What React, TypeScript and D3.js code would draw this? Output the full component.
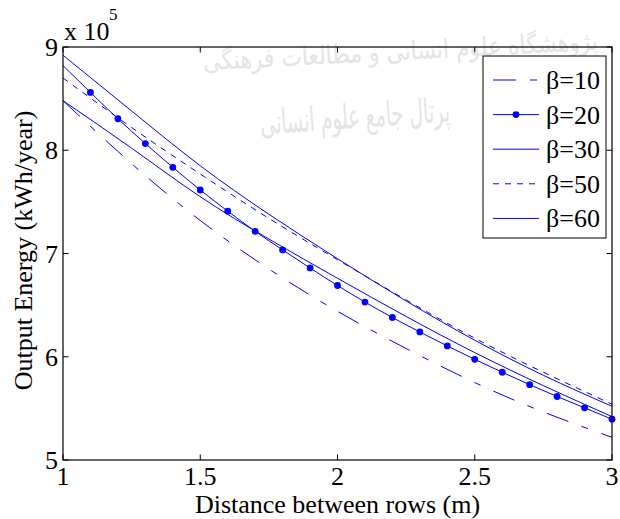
import React from "react";
import * as d3 from "d3";

const xFine = [1.0, 1.1, 1.2, 1.3, 1.4, 1.5, 1.6, 1.7, 1.8, 1.9, 2.0, 2.1, 2.2, 2.3, 2.4, 2.5, 2.6, 2.7, 2.8, 2.9, 3.0];
const xCoarse = [1.0, 1.25, 1.5, 1.75, 2.0, 2.25, 2.5, 2.75, 3.0];

const beta10 = [8.48, 7.87, 7.32, 6.85, 6.44, 6.08, 5.75, 5.465, 5.22];
const beta20 = [8.82, 8.56, 8.305, 8.065, 7.835, 7.615, 7.41, 7.215, 7.035, 6.86, 6.69, 6.53, 6.38, 6.24, 6.105, 5.975, 5.85, 5.73, 5.615, 5.505, 5.395];
const beta30 = [8.92, 8.38, 7.85, 7.38, 6.95, 6.54, 6.16, 5.82, 5.52];
const beta50 = [8.70, 8.22, 7.77, 7.34, 6.94, 6.55, 6.18, 5.85, 5.54];
const beta60 = [8.48, 8.02, 7.55, 7.14, 6.76, 6.39, 6.04, 5.72, 5.42];

const xTicks = [1, 1.5, 2, 2.5, 3];
const yTicks = [5, 6, 7, 8, 9];
const legendLabels = ["β=10", "β=20", "β=30", "β=50", "β=60"];
const watermark = ["پژوهشگاه علوم انسانی و مطالعات فرهنگی", "پرتال جامع علوم انسانی"];

const W = 620, H = 519;
const FONT = "'Liberation Serif', 'Times New Roman', serif";
const BLUE = "#0000ff";

export default function App() {
  const x = d3.scaleLinear().domain([1, 3]).range([63, 612]);
  const y = d3.scaleLinear().domain([5, 9]).range([460, 47]);
  const line = d3.line<[number, number]>().x(d => x(d[0])).y(d => y(d[1])).curve(d3.curveNatural);

  const series = [
    { name: legendLabels[0], xs: xCoarse, ys: beta10, dash: "23,14,7,14", dots: false },
    { name: legendLabels[1], xs: xFine, ys: beta20, dash: null, dots: true },
    { name: legendLabels[2], xs: xCoarse, ys: beta30, dash: null, dots: false },
    { name: legendLabels[3], xs: xCoarse, ys: beta50, dash: "6,6", dots: false },
    { name: legendLabels[4], xs: xCoarse, ys: beta60, dash: null, dots: false },
  ];

  const [x0, x1] = x.range();
  const [y0, y1] = y.range();
  const tl = 5.5;
  const fs = 26;

  const legX = 483, legY = 56, legW = 123, legH = 182;
  const legStep = 34.6;

  return (
    <svg width={W} height={H} style={{ position: "absolute", left: 0, top: 0, background: "#fff" }} fontFamily={FONT}>
      <rect x={0} y={0} width={W} height={H} fill="#fff" />
      {/* faint watermark of the source page */}
      <g fill="#e4e4e4" fontFamily="'DejaVu Sans', sans-serif" direction="rtl">
        <text x={598} y={60} fontSize={26} textAnchor="start" textLength={395} lengthAdjust="spacingAndGlyphs" transform="rotate(-3 400 50)">{watermark[0]}</text>
        <text x={450} y={128} fontSize={34} textAnchor="start" textLength={190} lengthAdjust="spacingAndGlyphs" transform="rotate(-4 355 118)">{watermark[1]}</text>
      </g>
      {series.map((s, i) => (
        <g key={i}>
          <path
            d={line(s.xs.map((v, j) => [v, s.ys[j]] as [number, number])) || ""}
            fill="none"
            stroke={BLUE}
            strokeWidth={1}
            strokeDasharray={s.dash || undefined}
          />
          {s.dots && s.xs.map((v, j) => j > 0 ? (
            <circle key={j} cx={x(v)} cy={y(s.ys[j])} r={3.4} fill={BLUE} />
          ) : null)}
        </g>
      ))}
      {/* axes box */}
      <rect x={x0} y={y1} width={x1 - x0} height={y0 - y1} fill="none" stroke="#000" strokeWidth={1.2} />
      {xTicks.map((t, i) => (
        <g key={"xt" + i}>
          <line x1={x(t)} x2={x(t)} y1={y0} y2={y0 - tl} stroke="#000" />
          <line x1={x(t)} x2={x(t)} y1={y1} y2={y1 + tl} stroke="#000" />
          <text x={x(t)} y={y0 + 25} fontSize={fs} textAnchor="middle">{t}</text>
        </g>
      ))}
      {yTicks.map((t, i) => (
        <g key={"yt" + i}>
          <line x1={x0} x2={x0 + tl} y1={y(t)} y2={y(t)} stroke="#000" />
          <line x1={x1} x2={x1 - tl} y1={y(t)} y2={y(t)} stroke="#000" />
          <text x={x0 - 5} y={y(t) + 9} fontSize={fs} textAnchor="end">{t}</text>
        </g>
      ))}
      <text x={64} y={40} fontSize={fs}>x 10</text>
      <text x={109} y={20} fontSize={17}>5</text>
      <text x={(x0 + x1) / 2} y={513} fontSize={fs} textAnchor="middle">Distance between rows (m)</text>
      <text transform={`translate(32,${(y0 + y1) / 2 - 3}) rotate(-90)`} fontSize={fs} textAnchor="middle">Output Energy (kWh/year)</text>
      {/* legend */}
      <rect x={legX} y={legY} width={legW} height={legH} fill="#fff" stroke="#000" strokeWidth={1} />
      {series.map((s, i) => {
        const cy = legY + 24 + i * legStep;
        return (
          <g key={"lg" + i}>
            <line x1={493} x2={539} y1={cy} y2={cy} stroke={BLUE} strokeWidth={1} strokeDasharray={s.dash || undefined} />
            {s.dots && <circle cx={516} cy={cy} r={3.4} fill={BLUE} />}
            <text x={546} y={cy + 9} fontSize={fs}>{s.name}</text>
          </g>
        );
      })}
    </svg>
  );
}
